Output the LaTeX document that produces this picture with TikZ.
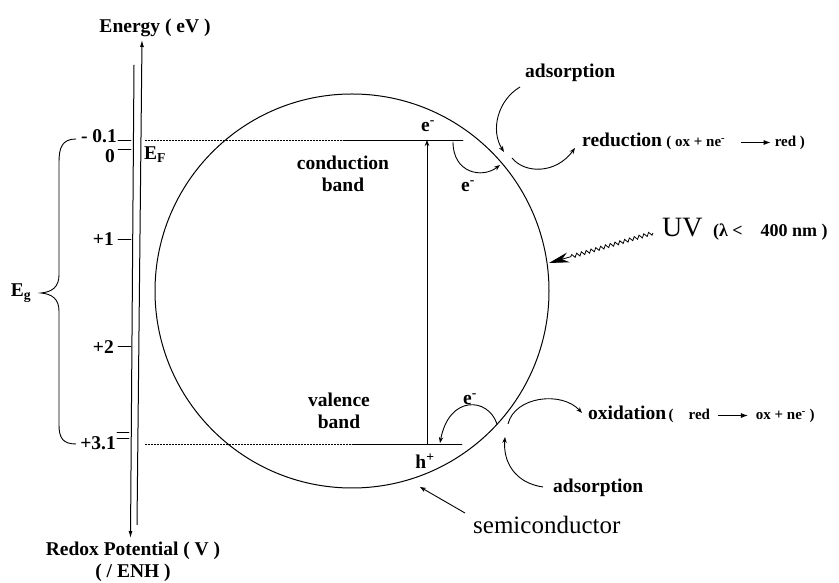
\documentclass[tikz,border=0pt]{standalone}
\usepackage{fontspec}
\setmainfont{Liberation Serif}
\usetikzlibrary{arrows.meta,calc,decorations.pathmorphing}
\usepackage{tkz-euclide}
\newcommand\rxarrow{\tikz[baseline=-0.6ex]\draw[line width=0.9pt,-{Latex[length=7pt,width=5pt]}] (0,0) -- (30pt,0);}

\begin{document}
\begin{tikzpicture}[x=1pt,y=1pt,
  lbl/.style={font=\bfseries\fontsize{19.5}{22}\selectfont,inner sep=0pt},
  eqn/.style={font=\bfseries\fontsize{15}{17}\selectfont,inner sep=0pt},
  plain/.style={font=\fontsize{#1}{#1}\selectfont,inner sep=0pt},
  tip/.style={-{Stealth[length=6pt,width=4.5pt]}},
  lvl/.style={line width=0.8pt,dash pattern=on 1.5pt off 1.5pt}]
\useasboundingbox (0,0) rectangle (839,583);
\tkzSetUpLine[line width=0.9pt,color=black]

\tkzDefPoints{137/58/EA,142/543/EB,134/518/RA,130.5/45/RB}
\tkzDefPoints{118/443/Ta,131/443/Tb,118/434/Tc,131/434/Td,118/344/Te,131/344/Tf,
  118/237/Tg,131/237/Th,117/151/Ti,129/151/Tj,117/145/Tk,129/145/Tl}
\tkzDefPoints{145/443/D1,343/443/C1,463/443/C2,145/139/D2,352/139/V1,462/139/V2,
  427/139/P1,427/443/P2}
\tkzDefPoints{352/292/O,453/441/K1,500/418/K2,520/496/A1,504/431/A2,
  512/425/B1,575/435/B2,497/159/H1,440/140/H2,508/159/X1,582/170/X2,
  543/96/F1,505/146/F2,465/70/S1,420/96/S2,653/350/W1,549/320/W2}

\draw[line width=1pt] (O) circle[radius=197];

\draw[line width=1pt,-{Latex[length=7pt,width=4pt]}] (EA) -- (EB);
\draw[line width=1pt,-{Latex[length=7pt,width=4pt]}] (RA) -- (RB);
\tkzDrawSegments(Ta,Tb Tc,Td Te,Tf Tg,Th Ti,Tj Tk,Tl)

\draw[lvl] (D1) -- (C1);
\draw[lvl] (D2) -- (V1);
\tkzDrawSegments(C1,C2 V1,V2)
\draw[line width=0.9pt,tip] (P1) -- (P2);

\draw[line width=0.9pt] (76,444) .. controls (62,444) and (59,435) .. (59,421) -- (59,308)
  .. controls (59,296) and (52,291) .. (41,290) .. controls (52,289) and (59,284) .. (59,272)
  -- (59,158) .. controls (59,145) and (63,139) .. (76,139);

\draw[line width=0.9pt,tip] (K1) .. controls (453,410) and (482,404) .. (K2);
\draw[line width=0.9pt,tip] (A1) .. controls (498,483) and (490,453) .. (A2);
\draw[line width=0.9pt,tip] (B1) .. controls (525,409) and (556,409) .. (B2);
\draw[line width=0.9pt,tip] (H1) .. controls (488,186) and (449,188) .. (H2);
\draw[line width=0.9pt,tip] (X1) .. controls (515,187) and (562,192) .. (X2);
\draw[line width=0.9pt,tip] (F1) .. controls (515,100) and (503,121) .. (F2);
\draw[line width=0.9pt,tip] (S1) -- (S2);
\draw[line width=0.8pt,-{Stealth[length=20pt,width=10pt]},decorate,
  decoration={snake,amplitude=1.8pt,segment length=5pt,post length=22pt}] (W1) -- (W2);

\node[lbl] (energy) at (155,555) {Energy ( eV )};
\node[lbl,align=center] (redox) at (133,21) {Redox Potential ( V )\\( / ENH )};
\node[lbl,anchor=east] (m01) at (117,447) {- 0.1};
\node[lbl] (zero) at (110,427) {0};
\node[lbl,anchor=west] (ef) at (144,428) {E\textsubscript{F}};
\node[lbl,anchor=east] (p1) at (114,344) {+1};
\node[lbl,anchor=east] (p2) at (114,236) {+2};
\node[lbl,anchor=east] (p31) at (116,140) {+3.1};
\node[lbl] (eg) at (21,290) {E\textsubscript{g}};

\node[lbl,align=center] (cb) at (343,409) {conduction\\band};
\node[lbl,align=center] (vb) at (339,172) {valence\\band};
\node[lbl] (e1) at (428,457) {e\textsuperscript{-}};
\node[lbl] (e2) at (468,397) {e\textsuperscript{-}};
\node[lbl] (e3) at (470,184) {e\textsuperscript{-}};
\node[lbl] (hp) at (425,122) {h\textsuperscript{+}};

\node[lbl,anchor=west] (ads1) at (525,510) {adsorption};
\node[lbl,anchor=west] (red) at (582,443) {reduction};
\node[eqn,anchor=base west] (redeq) at ([xshift=4pt]red.base east) {(\ ox + ne\textsuperscript{-}\quad\rxarrow{}\ red\ )};
\node[plain=28,anchor=west] (uv) at (662,355) {UV};
\node[eqn,font=\bfseries\fontsize{18}{20}\selectfont,anchor=base west] (uveq) at ([xshift=10pt]uv.base east) {(λ <\quad 400 nm )};
\node[lbl,anchor=west] (ox) at (588,170) {oxidation};
\node[eqn,anchor=base west] (oxeq) at ([xshift=2pt]ox.base east) {(\quad red\ \ \rxarrow{}\ \ ox + ne\textsuperscript{-}\ )};
\node[lbl,anchor=west] (ads2) at (553,95) {adsorption};
\node[plain=25,anchor=west] (semi) at (473,58) {semiconductor};

\end{tikzpicture}
\end{document}
